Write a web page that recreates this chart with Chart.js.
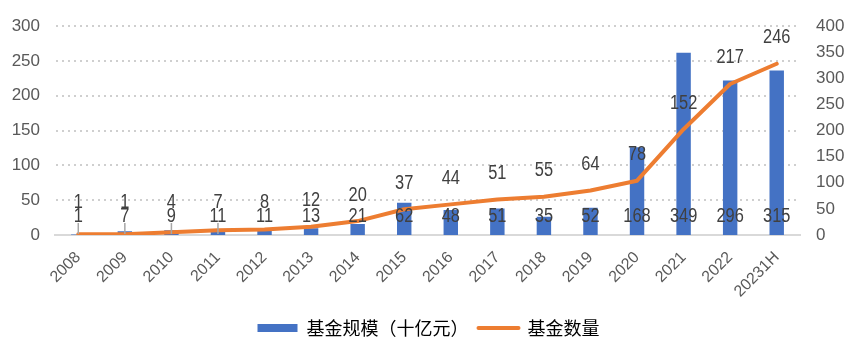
<!DOCTYPE html>
<html>
<head>
<meta charset="utf-8">
<script src="https://cdn.jsdelivr.net/npm/chart.js@4"></script>
<style>
html,body{margin:0;padding:0;background:#fff;}
#wrap{width:856px;height:356px;position:relative;}
</style>
</head>
<body>
<div id="wrap"><canvas id="c" width="856" height="356"></canvas></div>
<script>
const categories = ['2008','2009','2010','2011','2012','2013','2014','2015','2016','2017','2018','2019','2020','2021','2022','20231H'];
// 基金规模（十亿元） — bars, right axis
const fundSize = [1,7,9,11,11,13,21,62,48,51,35,52,168,349,296,315];
// 基金数量 — line, left axis
const fundCount = [1,1,4,7,8,12,20,37,44,51,55,64,78,152,217,246];
const leftTicks = [0,50,100,150,200,250,300];
const rightTicks = [0,50,100,150,200,250,300,350,400];
const seriesNames = ['基金规模（十亿元）','基金数量'];

const FONT = "'Liberation Sans',Arial,sans-serif";
const BLUE = '#4472C4', ORANGE = '#ED7D31';

const labelPlugin = {
  id: 'valueLabels',
  afterDatasetsDraw(chart) {
    const ctx = chart.ctx;
    const barMeta = chart.getDatasetMeta(0);
    const lineMeta = chart.getDatasetMeta(1);
    const base = chart.scales.y2.getPixelForValue(0);
    ctx.save();
    ctx.strokeStyle = '#A6A6A6';
    ctx.lineWidth = 1.5;
    barMeta.data.forEach((el, i) => {
      if (i < 4) {
        ctx.beginPath();
        ctx.moveTo(el.x, base - 12);
        ctx.lineTo(el.x, base - 1);
        ctx.stroke();
      }
    });
    ctx.font = '20px ' + FONT;
    ctx.fillStyle = '#404040';
    ctx.textAlign = 'center';
    ctx.textBaseline = 'middle';
    const put = (txt, x, y) => {
      ctx.save();
      ctx.translate(x, y);
      ctx.scale(0.82, 1);
      ctx.fillText(txt, 0, 0);
      ctx.restore();
    };
    barMeta.data.forEach((el, i) => put(String(fundSize[i]), el.x, base - 19));
    lineMeta.data.forEach((el, i) => put(String(fundCount[i]), el.x, Math.min(el.y - 26, base - 33)));
    ctx.restore();
  }
};

new Chart(document.getElementById('c'), {
  data: {
    labels: categories,
    datasets: [
      {
        type: 'bar',
        label: seriesNames[0],
        data: fundSize,
        yAxisID: 'y2',
        backgroundColor: BLUE,
        barPercentage: 0.31,
        categoryPercentage: 1,
        order: 2
      },
      {
        type: 'line',
        label: seriesNames[1],
        data: fundCount,
        yAxisID: 'y',
        borderColor: ORANGE,
        backgroundColor: ORANGE,
        borderWidth: 4,
        pointRadius: 0,
        tension: 0,
        borderCapStyle: 'round',
        borderJoinStyle: 'round',
        order: 1
      }
    ]
  },
  options: {
    responsive: false,
    animation: false,
    devicePixelRatio: 1,
    layout: { autoPadding: false, padding: { left: 12, right: 11, top: 23, bottom: 9 } },
    plugins: {
      tooltip: { enabled: false },
      legend: {
        position: 'bottom',
        labels: {
          usePointStyle: true,
          pointStyleWidth: 40,
          boxHeight: 8,
          padding: 10,
          color: '#7F7F7F',
          font: { family: "'Noto Sans CJK SC',sans-serif", size: 18 },
          generateLabels(chart) {
            return [
              { text: seriesNames[0], fillStyle: BLUE, strokeStyle: BLUE, lineWidth: 0, pointStyle: 'rect', datasetIndex: 0, hidden: false },
              { text: seriesNames[1], fillStyle: ORANGE, strokeStyle: ORANGE, lineWidth: 4, lineCap: 'round', pointStyle: 'line', datasetIndex: 1, hidden: false }
            ];
          }
        }
      }
    },
    scales: {
      x: {
        offset: true,
        afterFit(axis) { axis.height = 74; axis.paddingLeft = 0; axis.paddingRight = 0; },
        grid: { display: false, drawTicks: false },
        border: { display: true, color: '#D9D9D9', width: 2 },
        ticks: {
          minRotation: 45, maxRotation: 45, autoSkip: false,
          color: '#595959', padding: 13,
          font: { family: FONT, size: 16 }
        }
      },
      y: {
        position: 'left',
        min: 0, max: 300,
        afterFit(axis) { axis.width = 43; },
        afterBuildTicks(axis) { axis.ticks = leftTicks.map(v => ({ value: v })); },
        grid: { color: '#CFCFCF', lineWidth: 2, drawTicks: false },
        border: { display: true, color: 'rgba(0,0,0,0)', width: 1, dash: [2, 4] },
        ticks: { color: '#595959', padding: 15, font: { family: FONT, size: 17 } }
      },
      y2: {
        position: 'right',
        min: 0, max: 400,
        afterFit(axis) { axis.width = 45; },
        afterBuildTicks(axis) { axis.ticks = rightTicks.map(v => ({ value: v })); },
        grid: { display: false, drawTicks: false },
        border: { display: false },
        ticks: { color: '#595959', padding: 16, font: { family: FONT, size: 17 } }
      }
    }
  },
  plugins: [labelPlugin]
});
</script>
</body>
</html>
